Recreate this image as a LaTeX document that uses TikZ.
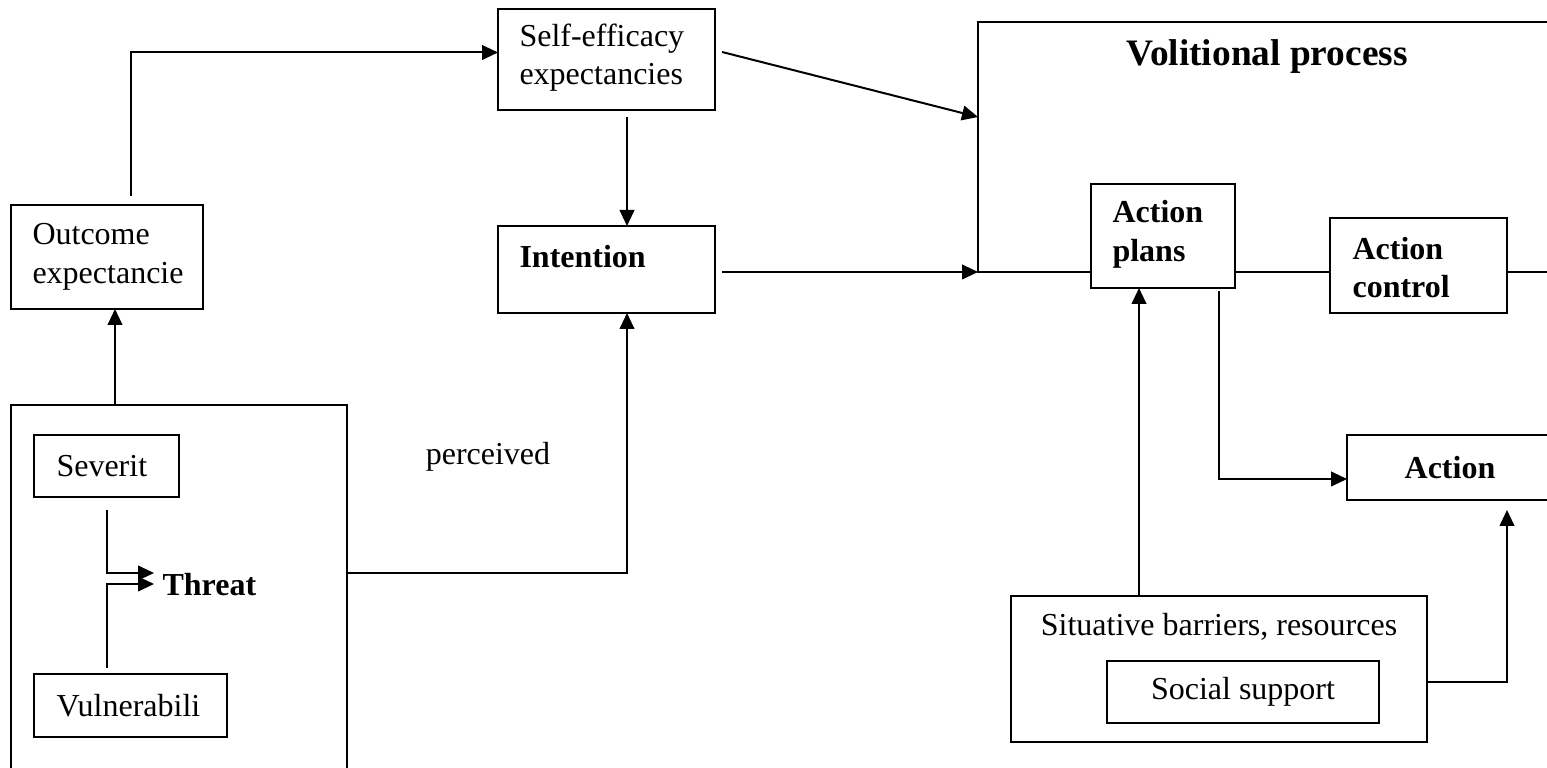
\documentclass[12pt,tikz,border=0pt]{standalone}
\usepackage{fontspec}
\setmainfont{Liberation Serif}
\usetikzlibrary{arrows.meta,calc}
\newcommand{\pxu}{0.375pt}
\tikzset{
	box/.style={draw, line width=0.75pt, fill=white, inner sep=0pt, outer sep=0pt, anchor=north west},
	lbl/.style={inner sep=0pt, align=left, anchor=west},
	link/.style={line width=0.75pt, -{Triangle[length=6pt,width=5.5pt]}}
}
\begin{document}
\begin{tikzpicture}[x=0.375pt, y=-0.375pt]
	\useasboundingbox (0,0) rectangle (1547,768);
	\clip (0,0) rectangle (1547,768);
	
	% threat
	\node[box, minimum width=336*\pxu, minimum height=400*\pxu] (thr) at (11,405) {};
	\node[box, minimum width=145*\pxu, minimum height=62*\pxu] (sev) at (34,435) {};
	\node[lbl] (sevt) at ($(sev.west)+(22,0)$) {Severit};
	\node[box, minimum width=193*\pxu, minimum height=63*\pxu] (vul) at (34,674) {};
	\node[lbl] (vult) at ($(vul.west)+(22,0)$) {Vulnerabili};
	\node[lbl, font=\bfseries] (threat) at (162,585) {Threat};
	\draw[link] ($(sev.south)+(0,13)$) |- ($(threat.west)+(-8,-12)$);
	\draw[link] ($(vul.north west)+(73,-6)$) |- ($(threat.west)+(-8,-1)$);
	\node[inner sep=0pt] (perc) at (488,457) {perceived};
	
	% motivation
	\node[box, minimum width=192*\pxu, minimum height=104*\pxu] (oe) at (11,205) {};
	\node[lbl] (oet) at ($(oe.west)+(21,0)$) {Outcome\\expectancie};
	\node[box, minimum width=217*\pxu, minimum height=101*\pxu] (se) at (498,9) {};
	\node[lbl] (set) at ($(se.west)+(21,-2)$) {Self-efficacy\\expectancies};
	\node[box, minimum width=217*\pxu, minimum height=87*\pxu] (int) at (498,226) {};
	\node[lbl, font=\bfseries] (intt) at ($(int.north west)+(21,31)$) {Intention};
	
	\draw[link] ($(thr.north west)+(104,0)$) -- ($(oe.south west)+(104,0)$);
	\draw[link] ($(oe.north west)+(120,-9)$) |- ($(se.west)+(0,-7)$);
	\draw[link] ($(se.south west)+(129,7)$) -- ($(int.north west)+(129,0)$);
	\draw[link] ($(thr.north east)+(0,168)$) -| ($(int.south west)+(129,0)$);
	
	% volition
	\node[box, minimum width=600*\pxu, minimum height=250*\pxu] (vol) at (978,22) {};
	\node[lbl, font={\fontsize{14}{16}\selectfont\bfseries}] (volt) at (1126,57) {Volitional process};
	\node[box, minimum width=144*\pxu, minimum height=104*\pxu] (ap) at (1091,184) {};
	\node[lbl, font=\bfseries] (apt) at ($(ap.west)+(21,-2)$) {Action\\plans};
	\node[box, minimum width=177*\pxu, minimum height=95*\pxu] (ac) at (1330,218) {};
	\node[lbl, font=\bfseries] (act1) at ($(ac.west)+(22,2)$) {Action\\control};
	\node[box, minimum width=230*\pxu, minimum height=65*\pxu] (act) at (1347,435) {};
	\node[inner sep=0pt, font=\bfseries] (actt) at ($(act.west)+(103,0)$) {Action};
	
	\draw[link] ($(se.north east)+(7,43)$) -- ($(vol.north west)+(0,95)$);
	\draw[link] ($(int.north east)+(7,46)$) -- (vol.south west);
	
	% barriers
	\node[box, minimum width=416*\pxu, minimum height=146*\pxu] (sit) at (1011,596) {};
	\node[inner sep=0pt] (sitt) at ($(sit.north)+(0,31)$) {Situative barriers, resources};
	\node[box, minimum width=272*\pxu, minimum height=62*\pxu] (soc) at (1107,661) {Social support};
	
	\draw[link] ($(sit.north west)+(128,0)$) -- ($(ap.south west)+(48,0)$);
	\draw[link] ($(ap.south west)+(128,3)$) |- ($(act.west)+(0,11.5)$);
	\draw[link] ($(sit.north east)+(0,86)$) -| ($(act.south west)+(160,10)$);
	
\end{tikzpicture}
\end{document}
